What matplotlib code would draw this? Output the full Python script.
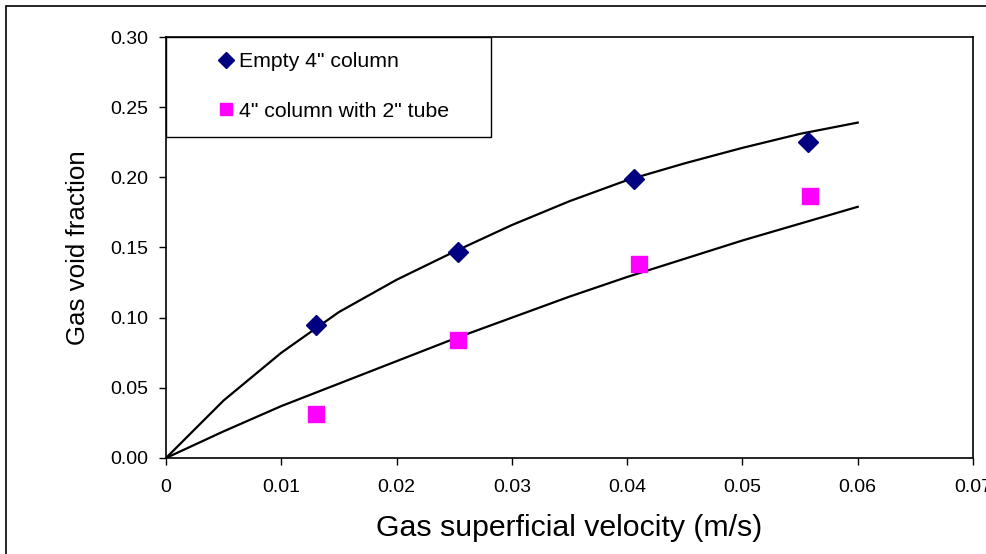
import matplotlib
matplotlib.use("Agg")
import matplotlib.pyplot as plt
from matplotlib.patches import Rectangle

plt.rcParams['font.family'] = ['Liberation Sans', 'DejaVu Sans']

# measured data
empty_x = [0.0130, 0.0253, 0.0406, 0.0557]
empty_y = [0.095, 0.147, 0.199, 0.225]
tube_x = [0.0130, 0.0253, 0.0410, 0.0559]
tube_y = [0.031, 0.084, 0.138, 0.187]

# model curves
fit_x = [0, 0.005, 0.01, 0.015, 0.02, 0.025, 0.03, 0.035, 0.04, 0.045, 0.05, 0.055, 0.06]
fit_empty = [0, 0.041, 0.075, 0.104, 0.127, 0.147, 0.166, 0.183, 0.198, 0.210, 0.221, 0.231, 0.239]
fit_tube = [0, 0.019, 0.037, 0.053, 0.069, 0.085, 0.100, 0.115, 0.129, 0.142, 0.155, 0.167, 0.179]

xticks = [0, 0.01, 0.02, 0.03, 0.04, 0.05, 0.06, 0.07]
xticklabels = ["0", "0.01", "0.02", "0.03", "0.04", "0.05", "0.06", "0.07"]
yticks = [0.00, 0.05, 0.10, 0.15, 0.20, 0.25, 0.30]
yticklabels = ["0.00", "0.05", "0.10", "0.15", "0.20", "0.25", "0.30"]

fig = plt.figure(figsize=(9.87, 5.54), dpi=100)
ax = fig.add_axes([166/987, 96/554, 807/987, 421/554])

ax.plot(fit_x, fit_empty, color='black', lw=1.6, zorder=2)
ax.plot(fit_x, fit_tube, color='black', lw=1.6, zorder=2)
ax.plot(empty_x, empty_y, linestyle='none', marker='D', color='#000080', ms=10,
        label='Empty 4" column', zorder=3)
ax.plot(tube_x, tube_y, linestyle='none', marker='s', color='#FF00FF', ms=11,
        label='4" column with 2" tube', zorder=3)

ax.set_xlim(0, 0.07)
ax.set_ylim(0, 0.30)
ax.set_xticks(xticks)
ax.set_xticklabels(xticklabels)
ax.set_yticks(yticks)
ax.set_yticklabels(yticklabels)
ax.tick_params(direction='out', length=5, width=1, labelsize=14)
ax.tick_params(axis='x', pad=10)
ax.tick_params(axis='y', pad=8)
for s in ax.spines.values():
    s.set_linewidth(1.2)

ax.set_xlabel('Gas superficial velocity (m/s)', fontsize=21.8, labelpad=13)
ax.set_ylabel('Gas void fraction', fontsize=18.6, labelpad=14)

# legend box
ax.add_patch(Rectangle((0, (458-137)/421), (491-166)/807, 1 - (458-137)/421,
                       transform=ax.transAxes, facecolor='white', edgecolor='black',
                       lw=1.0, zorder=4))
leg = ax.legend(loc='upper left', bbox_to_anchor=((216-166)/807, 1 - (52-37)/421),
                frameon=False, fontsize=15.3, handlelength=0.9, handletextpad=0.2,
                borderpad=0, borderaxespad=0, labelspacing=1.45, markerscale=0.8)
leg.set_zorder(5)

# outer frame
fig.add_artist(Rectangle((6/987, -0.1), 1.2, (554-6)/554 + 0.1, transform=fig.transFigure,
                         facecolor='none', edgecolor='black', lw=1.2, clip_on=False))

fig.savefig('out.png', dpi=100)
